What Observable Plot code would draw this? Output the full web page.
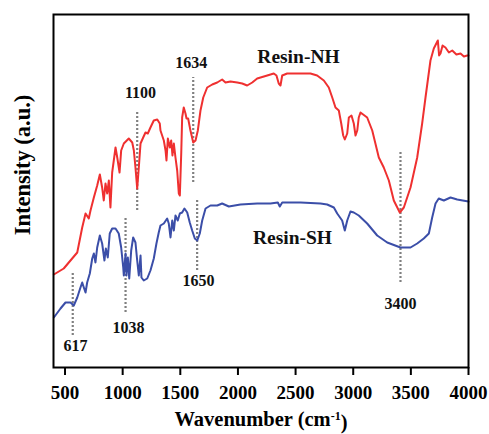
<!DOCTYPE html>
<html>
<head>
<meta charset="utf-8">
<script src="https://cdn.jsdelivr.net/npm/d3@7"></script>
<script src="https://cdn.jsdelivr.net/npm/@observablehq/plot@0.6"></script>
<style>
  html, body { margin: 0; padding: 0; background: #fff; }
  #chart svg { display: block; }
</style>
</head>
<body>
<div id="chart"></div>
<script>
// Wavenumber ticks
const xTicks = [500, 1000, 1500, 2000, 2500, 3000, 3500, 4000];

// Resin-NH (red) spectrum, intensity in a.u.
const nhWave = [403, 489, 562, 606, 649, 678, 706, 721, 750, 779, 802, 822, 836, 851, 866, 880, 894, 909, 923, 938, 953, 973, 987, 1010, 1053, 1083, 1097, 1111, 1126, 1140, 1155, 1178, 1198, 1218, 1241, 1270, 1300, 1322, 1328, 1357, 1372, 1380, 1392, 1409, 1421, 1432, 1444, 1458, 1473, 1487, 1496, 1508, 1516, 1530, 1545, 1554, 1568, 1588, 1612, 1632, 1652, 1675, 1699, 1733, 1777, 1820, 1863, 1892, 1935, 1994, 2037, 2080, 2124, 2167, 2254, 2311, 2334, 2354, 2369, 2384, 2427, 2514, 2629, 2687, 2745, 2788, 2818, 2846, 2875, 2896, 2913, 2927, 2948, 2962, 2985, 3005, 3020, 3035, 3048, 3063, 3121, 3165, 3222, 3265, 3309, 3352, 3404, 3439, 3497, 3555, 3598, 3627, 3670, 3699, 3734, 3745, 3757, 3775, 3800, 3830, 3859, 3895, 3931, 3960, 3989, 4000];
const nhInt  = [93, 99, 109, 115, 140, 154, 149, 157, 170, 182, 193, 180, 167, 184, 174, 187, 160, 195, 207, 220, 210, 195, 217, 224, 229, 225, 217, 200, 179, 200, 224, 230, 235, 234, 240, 247, 248, 244, 237, 227, 217, 207, 229, 220, 227, 212, 224, 210, 197, 174, 172, 214, 250, 260, 254, 249, 249, 237, 225, 227, 237, 257, 270, 280, 283, 285, 288, 285, 286, 285, 284, 282, 285, 289, 292, 294, 292, 284, 282, 292, 294, 294, 294, 292, 287, 280, 270, 260, 257, 244, 232, 228, 234, 250, 252, 244, 232, 237, 250, 255, 250, 237, 210, 200, 187, 167, 155, 160, 180, 210, 244, 270, 307, 319, 327, 312, 314, 322, 320, 315, 317, 313, 314, 311, 312, 312];

// Resin-SH (blue) spectrum, intensity in a.u.
const shWave = [403, 461, 504, 547, 576, 606, 634, 649, 663, 678, 692, 715, 736, 750, 764, 779, 802, 822, 842, 854, 871, 888, 909, 938, 966, 987, 1005, 1010, 1025, 1033, 1045, 1057, 1074, 1091, 1111, 1126, 1140, 1155, 1163, 1183, 1213, 1241, 1270, 1293, 1313, 1328, 1357, 1386, 1400, 1415, 1430, 1444, 1458, 1478, 1496, 1516, 1536, 1560, 1582, 1603, 1626, 1647, 1669, 1690, 1719, 1762, 1820, 1863, 1921, 2022, 2167, 2282, 2346, 2363, 2384, 2543, 2716, 2774, 2832, 2861, 2904, 2927, 2948, 2976, 3005, 3048, 3121, 3208, 3295, 3410, 3497, 3555, 3612, 3656, 3685, 3714, 3742, 3786, 3844, 3902, 3950, 4000];
const shInt  = [50, 59, 65, 65, 62, 70, 80, 85, 80, 75, 85, 94, 109, 114, 105, 120, 132, 124, 107, 119, 110, 134, 139, 139, 134, 120, 100, 92, 114, 92, 110, 89, 117, 130, 125, 107, 92, 112, 90, 87, 89, 97, 109, 124, 135, 142, 144, 149, 144, 130, 147, 137, 152, 147, 154, 155, 159, 155, 145, 137, 129, 127, 134, 147, 159, 162, 162, 164, 161, 163, 164, 164, 165, 161, 165, 165, 164, 163, 160, 154, 147, 137, 147, 156, 155, 152, 144, 132, 125, 120, 120, 124, 129, 134, 150, 164, 169, 167, 170, 168, 167, 166];

// Peak annotations: marker position, marker span, label text, label anchor point
const markWave  = [567, 1025, 1126, 1612, 1646, 3410];
const markTop   = [95, 150, 257, 290, 167, 215];
const markBot   = [32, 55, 157, 185, 97, 85];
const markText  = ["617", "1038", "1100", "1634", "1650", "3400"];
const labelWave = [591, 1051, 1155, 1595, 1658, 3410];
const labelInt  = [22, 40, 275, 305, 87, 64];

// Series names
const seriesName = ["Resin-NH", "Resin-SH"];
const seriesLabelWave = [2525, 2473];
const seriesLabelInt  = [311, 130];

const nh = nhWave.map((w, i) => ({w, v: nhInt[i]}));
const sh = shWave.map((w, i) => ({w, v: shInt[i]}));
const marks = markWave.map((w, i) => ({w, top: markTop[i], bot: markBot[i]}));
const labels = markText.map((t, i) => ({t, w: labelWave[i], v: labelInt[i]}));
const names = seriesName.map((t, i) => ({t, w: seriesLabelWave[i], v: seriesLabelInt[i]}));

const font = "'Liberation Serif', 'Times New Roman', serif";
const red = "#ef3030";
const blue = "#3b4ea8";

const chart = Plot.plot({
  width: 489,
  height: 434,
  marginLeft: 53,
  marginRight: 21,
  marginTop: 14,
  marginBottom: 67,
  style: {fontFamily: font, fontWeight: "bold", fontSize: "19px", color: "#000", background: "#fff"},
  x: {domain: [400, 4000], axis: null},
  y: {domain: [0, 353], axis: null},
  marks: [
    Plot.axisX({ticks: xTicks, tickFormat: d => String(d), tickSize: 8, tickPadding: 10, strokeWidth: 2, label: null, fontSize: 19, fontWeight: "bold"}),
    Plot.ruleX(marks, {x: "w", y1: "bot", y2: "top", stroke: "#808080", strokeWidth: 2.2, strokeDasharray: "2,2"}),
    Plot.line(sh, {x: "w", y: "v", stroke: blue, strokeWidth: 2}),
    Plot.line(nh, {x: "w", y: "v", stroke: red, strokeWidth: 2}),
    Plot.text(labels, {x: "w", y: "v", text: "t", fontSize: 16, fontWeight: "bold", fill: "#111"}),
    Plot.text(names, {x: "w", y: "v", text: "t", fontSize: 19.5, fontWeight: "bold", fill: "#111"}),
    Plot.text(["Intensity (a.u.)"], {frameAnchor: "left", textAnchor: "middle", dx: -31, dy: -26, rotate: -90, fontSize: 22.5, fontWeight: "bold", fill: "#000"}),
    Plot.text(["Wavenumber (cm-1)"], {frameAnchor: "bottom", textAnchor: "middle", dy: 58, fontSize: 20.5, fontWeight: "bold", fill: "#000"}),
    Plot.frame({stroke: "#000", strokeWidth: 2})
  ]
});

document.getElementById("chart").appendChild(chart);

// superscript for the x-axis title
d3.select(chart).selectAll("text").each(function() {
  if (this.textContent === "Wavenumber (cm-1)") {
    const t = d3.select(this);
    t.text(null);
    t.append("tspan").text("Wavenumber (cm");
    t.append("tspan").attr("dy", "-0.45em").attr("font-size", "12px").text("-1");
    t.append("tspan").attr("dy", "0.45em").text(")");
  }
});
</script>
</body>
</html>
